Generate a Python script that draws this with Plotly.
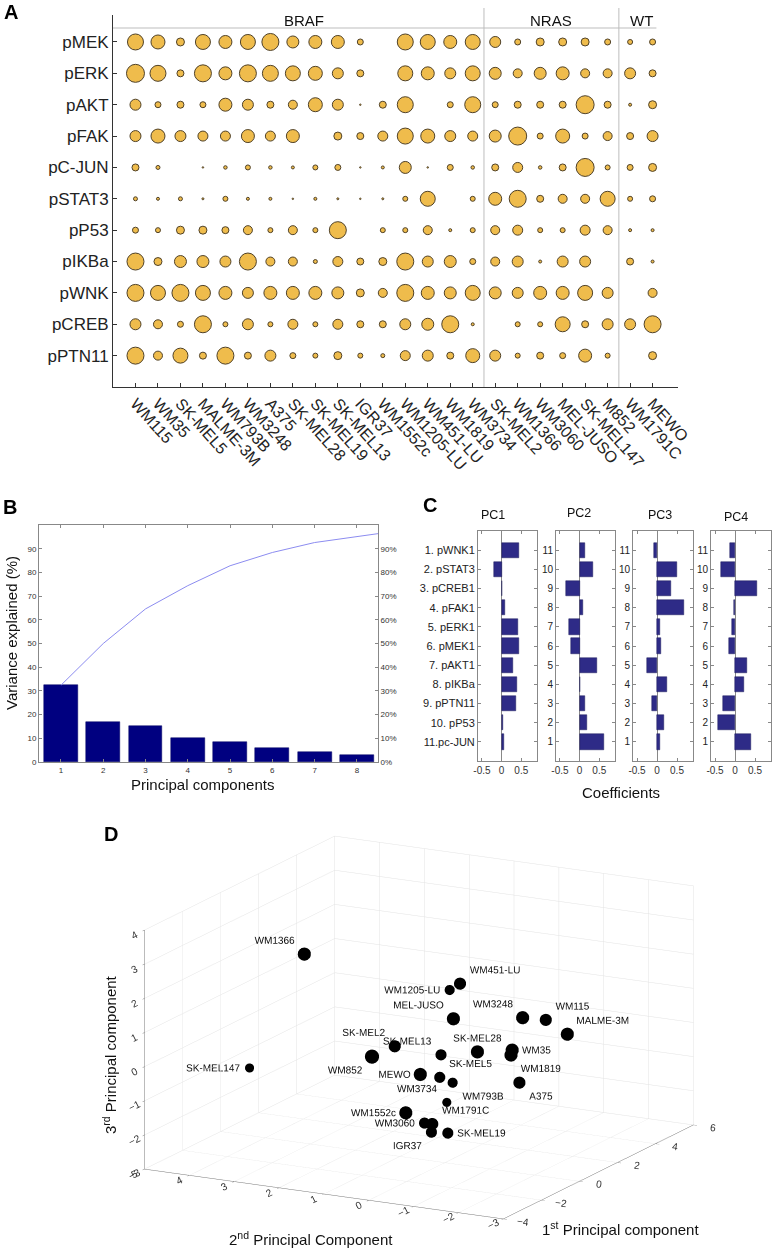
import plotly.graph_objects as go

W, H = 772, 1249
def px(x): return x / W
def py(y): return 1 - y / H

FONT = "Liberation Sans, Arial, sans-serif"

# ---------------- Panel A data ----------------
markers = ["pMEK", "pERK", "pAKT", "pFAK", "pC-JUN", "pSTAT3", "pP53",
           "pIKBa", "pWNK", "pCREB", "pPTN11"]
cell_lines = ["WM115", "WM35", "SK-MEL5", "MALME-3M", "WM793B", "WM3248", "A375",
              "SK-MEL28", "SK-MEL19", "SK-MEL13", "IGR37", "WM1552c", "WM1205-LU",
              "WM451-LU", "WM1819", "WM3734", "SK-MEL2", "WM1366", "WM3060",
              "MEL-JUSO", "SK-MEL147", "M852", "WM1791C", "MEWO"]
pMEK   = [16, 14, 8, 15, 13, 15, 17, 12, 13, 13, 6, 0, 16, 15, 13, 15, 11, 6, 8, 8, 8, 6, 5, 6]
pERK   = [18, 16, 7, 17, 13, 17, 16, 15, 14, 11, 7, 0, 15, 13, 11, 15, 12, 9, 12, 13, 9, 9, 11, 7]
pAKT   = [11, 6, 7, 6, 13, 11, 7, 9, 14, 11, 1.5, 7, 16, 0, 6, 16, 6, 7, 7, 7, 18, 7, 3, 8]
pFAK   = [11, 14, 11, 10, 10, 13, 10, 13, 0, 8, 7, 10, 16, 14, 11, 10, 12, 18, 6, 14, 6, 9, 7, 11]
pCJUN  = [7, 4, 0, 1.5, 3.5, 5, 3.5, 3, 5, 6, 1.5, 3, 12, 1.5, 6, 3.5, 7, 10, 3.5, 7, 18, 5, 6, 8]
pSTAT3 = [4, 3, 4, 2, 5, 3, 3, 1.5, 3, 2, 1.5, 2, 5, 15, 0, 5, 13, 17, 7, 9, 9, 15, 5, 6]
pP53   = [6, 5, 8, 8, 7, 9, 5, 9, 5, 17, 0, 5, 5, 9, 3, 5, 9, 10, 5, 5, 10, 9, 3, 3]
pIKBa  = [17, 8, 12, 12, 11, 17, 9, 9, 4, 10, 7, 8, 17, 11, 12, 6, 9, 11, 3, 11, 11, 0, 7, 3]
pWNK   = [17, 15, 17, 15, 13, 11, 13, 13, 13, 12, 8, 9, 17, 13, 12, 15, 12, 11, 13, 13, 15, 11, 0, 9]
pCREB  = [11, 9, 6, 17, 5, 11, 5, 10, 5, 10, 7, 7, 11, 12, 17, 3, 0, 5, 5, 15, 7, 11, 11, 17]
pPTN11 = [17, 9, 15, 7, 17, 7, 11, 6, 5, 8, 5, 4, 10, 11, 7, 14, 11, 5, 7, 6, 13, 5, 0, 8]
signal_rows = [pMEK, pERK, pAKT, pFAK, pCJUN, pSTAT3, pP53, pIKBa, pWNK, pCREB, pPTN11]
groups = ["BRAF", "NRAS", "WT"]
group_sizes = [16, 6, 2]

# ---------------- Panel B data ----------------
pcs = [1, 2, 3, 4, 5, 6, 7, 8]
var_explained = [32.4, 16.8, 15.1, 10.2, 8.4, 5.8, 4.1, 2.9]
cum_x = [1, 2, 3, 4, 5, 6, 7, 8, 9]
cum_explained = [32.4, 50.0, 64.6, 74.4, 82.8, 88.4, 92.6, 95.0, 97.6]

# ---------------- Panel C data ----------------
coef_labels = ["1. pWNK1", "2. pSTAT3", "3. pCREB1", "4. pFAK1", "5. pERK1", "6. pMEK1",
               "7. pAKT1", "8. pIKBa", "9. pPTN11", "10. pP53", "11.pc-JUN"]
pc1 = [0.43, -0.19, 0.02, 0.08, 0.41, 0.43, 0.29, 0.38, 0.37, 0.04, 0.06]
pc2 = [0.13, 0.35, -0.34, 0.09, -0.26, -0.22, 0.45, 0.01, 0.13, 0.18, 0.63]
pc3 = [-0.08, 0.50, 0.36, 0.68, 0.08, 0.09, -0.24, 0.26, -0.13, 0.17, 0.08]
pc4 = [-0.12, -0.34, 0.54, -0.02, -0.08, -0.16, 0.29, 0.23, -0.29, -0.42, 0.40]

# ---------------- Panel D data ----------------
d_names = ["WM1366", "SK-MEL147", "SK-MEL2", "WM852", "WM1552c", "WM1205-LU", "WM451-LU",
           "MEL-JUSO", "WM3248", "WM115", "MALME-3M", "SK-MEL13", "SK-MEL28", "WM35",
           "WM1819", "MEWO", "SK-MEL5", "WM793B", "A375", "WM3734", "WM1791C", "WM3060",
           "IGR37", "SK-MEL19"]
d_pc1 = [-1.5, 1.0, 0.0, -2.0, -3.5, 4.0, 1.5, -0.5, 3.0, 4.5, 2.0, 0.5, 1.0, 2.0,
         0.5, -2.5, 1.0, 3.0, 2.5, 3.0, -3.5, -1.5, -3.0, 1.0]
d_pc2 = [2.50, 4.78, 1.12, 0.78, -0.61, 1.59, 0.30, -0.40, -0.46, -0.34, -1.88, 0.30, -0.30, -0.65,
         -1.26, -0.51, 0.54, 1.10, -0.60, 1.23, -1.20, -0.18, -0.97, 0.36]
d_pc3 = [3.07, -1.37, 0.21, 0.52, -0.46, 0.67, 1.78, 1.43, 0.51, 0.01, 0.56, -0.03, 0.03, -0.13,
         0.25, 0.37, -0.87, -1.68, -1.23, -2.28, -0.68, -1.39, -1.10, -2.47]
d_size = [13, 9, 12, 14, 13, 10, 12, 13, 13, 12, 13, 11, 13, 13, 13, 13, 11, 10, 12, 9, 12, 11, 11, 11]
d_textpos = ["top left", "middle left", "top left", "bottom left", "middle left", "middle left",
             "top right", "top left", "top left", "top right", "top right", "top left",
             "top center", "middle right", "bottom right", "middle left", "top right",
             "bottom right", "bottom right", "top left", "top right", "middle left",
             "bottom left", "middle right"]

fig = go.Figure()

# ================= Panel A =================
ax_x, ax_y, ax_s = [], [], []
n_rows = len(markers)
for r, row in enumerate(signal_rows):
    for c, v in enumerate(row):
        if v > 0:
            ax_x.append(c)
            ax_y.append(n_rows - r)
            ax_s.append(v)
fig.add_trace(go.Scatter(
    x=ax_x, y=ax_y, mode="markers", xaxis="x", yaxis="y",
    marker=dict(size=ax_s, sizemode="diameter", color="#EFBC4C", opacity=1,
                line=dict(color="#4f4128", width=1)),
    showlegend=False, hoverinfo="skip"))

# ================= Panel B =================
fig.add_trace(go.Bar(x=pcs, y=var_explained, xaxis="x2", yaxis="y2", width=0.8,
                     marker=dict(color="#000080", line=dict(color="#000060", width=0.5)),
                     showlegend=False))
fig.add_trace(go.Scatter(x=cum_x, y=cum_explained, xaxis="x2", yaxis="y3", mode="lines",
                         line=dict(color="#8c8cf0", width=1), showlegend=False))

# ================= Panel C =================
rows_y = list(range(len(coef_labels), 0, -1))
for k, vals in enumerate([pc1, pc2, pc3, pc4]):
    fig.add_trace(go.Bar(x=vals, y=rows_y, orientation="h", width=0.8,
                         xaxis=f"x{k+3}", yaxis=f"y{k+4}",
                         marker=dict(color="#2E2B87", line=dict(color="#1c1a5c", width=0.5)),
                         showlegend=False))

# ================= Panel D =================
fig.add_trace(go.Scatter3d(
    x=d_pc1, y=d_pc2, z=d_pc3, mode="markers+text", text=d_names,
    textposition=d_textpos, textfont=dict(size=10, color="#111", family=FONT),
    marker=dict(size=d_size, sizemode="diameter", sizeref=0.85, color="black",
                opacity=1, line=dict(width=0)),
    showlegend=False, scene="scene"))

# ---------------- layout ----------------
axis_col = "#333"
layout = dict(
    width=W, height=H, autosize=False, template="none",
    margin=dict(l=0, r=0, t=0, b=0),
    paper_bgcolor="white", plot_bgcolor="rgba(0,0,0,0)",
    font=dict(family=FONT, color="#222"),
    bargap=0,
    # Panel A
    xaxis=dict(domain=[px(113), px(678)], range=[-1, 24.13], tickvals=list(range(len(cell_lines))),
               ticktext=cell_lines, tickangle=48, tickfont=dict(size=16, color="#222"),
               showline=True, linecolor=axis_col, ticks="inside", ticklen=4, tickcolor=axis_col,
               showgrid=False, zeroline=False, anchor="y", fixedrange=True),
    yaxis=dict(domain=[py(387), py(15)], range=[0, 11.86], tickvals=list(range(n_rows, 0, -1)),
               ticktext=markers, tickfont=dict(size=17, color="#222"),
               showline=True, linecolor=axis_col, ticks="inside", ticklen=4, tickcolor=axis_col,
               showgrid=False, zeroline=False, anchor="x"),
    # Panel B
    xaxis2=dict(domain=[px(39), px(378)], range=[0.48, 8.5], tickvals=pcs,
                tickfont=dict(size=8, color="#333"), showline=True, linecolor="#888",
                mirror="ticks", ticks="inside", ticklen=3, tickcolor="#888",
                showgrid=False, zeroline=False, anchor="y2"),
    yaxis2=dict(domain=[py(762), py(525)], range=[0, 100], tickvals=list(range(0, 100, 10)),
                tickfont=dict(size=8, color="#333"), showline=True, linecolor="#888",
                ticks="inside", ticklen=3, tickcolor="#888",
                showgrid=False, zeroline=False, anchor="x2"),
    yaxis3=dict(overlaying="y2", side="right", range=[0, 100], tickvals=list(range(0, 100, 10)),
                ticktext=[f"{v}%" for v in range(0, 100, 10)],
                tickfont=dict(size=8, color="#333"), showline=True, linecolor="#888",
                ticks="inside", ticklen=3, tickcolor="#888",
                showgrid=False, zeroline=False, anchor="x2"),
)
c_domains = [(478, 537), (556, 615), (633, 693), (711, 771)]
for k, (l, r) in enumerate(c_domains):
    xa = f"xaxis{k+3}"
    ya = f"yaxis{k+4}"
    layout[xa] = dict(domain=[px(l), px(r)], range=[-0.6, 0.9], tickvals=[-0.5, 0, 0.5],
                      ticktext=["-0.5", "0", "0.5"], tickfont=dict(size=10, color="#333"),
                      showline=True, linecolor="#888", mirror="allticks", ticks="inside",
                      ticklen=3, tickcolor="#888", showgrid=False,
                      zeroline=True, zerolinecolor="#888", zerolinewidth=1, anchor=f"y{k+4}")
    if k == 0:
        ytext = coef_labels
        yfs = 11
    else:
        ytext = [str(v) for v in rows_y]
        yfs = 10
    layout[ya] = dict(domain=[py(761), py(531)], range=[0, 12], tickvals=rows_y, ticktext=ytext,
                      tickfont=dict(size=yfs, color="#222"), showline=True, linecolor="#888",
                      mirror="allticks", ticks="inside", ticklen=3, tickcolor="#888",
                      showgrid=False, zeroline=False, anchor=f"x{k+3}")

# Panel D scene
eye_dir = (-0.853, -0.452, 0.262)
eye_f = 4.0
box_scale = 1.85
ax3d = dict(showbackground=False, gridcolor="#e3e3e3", gridwidth=1, showline=True,
            linecolor="#777", linewidth=1, ticks="outside", ticklen=4, tickcolor="#777",
            tickfont=dict(size=11, color="#333", family=FONT), zeroline=False,
            showspikes=False, title=dict(text=""))
layout["scene"] = dict(
    domain=dict(x=[px(119), px(719)], y=[py(1247), py(808)]),
    xaxis=dict(ax3d, range=[-4, 6], tickvals=[-4, -2, 0, 2, 4, 6]),
    yaxis=dict(ax3d, range=[-3, 5], tickvals=list(range(-3, 6))),
    zaxis=dict(ax3d, range=[-3, 4], tickvals=list(range(-3, 5))),
    aspectmode="manual", aspectratio=dict(x=box_scale, y=box_scale, z=0.61 * box_scale),
    camera=dict(eye=dict(x=eye_dir[0] * eye_f, y=eye_dir[1] * eye_f, z=eye_dir[2] * eye_f),
                center=dict(x=0, y=0, z=0), up=dict(x=0, y=0, z=1),
                projection=dict(type="orthographic")),
    bgcolor="rgba(0,0,0,0)",
)

# shapes for panel A groups
shapes = []
bounds = [15.5, 21.5]
for b in bounds:
    shapes.append(dict(type="line", xref="x", yref="paper", x0=b, x1=b, y0=py(387), y1=py(8),
                       line=dict(color="#bdbdbd", width=1)))
shapes.append(dict(type="line", xref="x", yref="paper", x0=-1, x1=23.17, y0=py(28), y1=py(28),
                   line=dict(color="#bdbdbd", width=1)))
layout["shapes"] = shapes

ann = []
start = 0
for g, n in zip(groups, group_sizes):
    ann.append(dict(text=g, xref="x", yref="paper", x=start + (n - 1) / 2, y=py(20.5),
                    showarrow=False, font=dict(size=15, color="#111"), xanchor="center",
                    yanchor="middle"))
    start += n
for lab, (x, y) in {"A": (10.5, 11.5), "B": (9.5, 507), "C": (430, 505.5), "D": (111, 834)}.items():
    ann.append(dict(text=f"<b>{lab}</b>", xref="paper", yref="paper", x=px(x), y=py(y),
                    showarrow=False, font=dict(size=20, color="black"),
                    xanchor="center", yanchor="middle"))
ann.append(dict(text="Variance explained (%)", xref="paper", yref="paper", x=px(11), y=py(633),
                textangle=-90, showarrow=False, font=dict(size=15, color="#111"),
                xanchor="center", yanchor="middle"))
ann.append(dict(text="Principal components", xref="paper", yref="paper", x=px(202), y=py(784),
                showarrow=False, font=dict(size=15, color="#111"), xanchor="center", yanchor="middle"))
ann.append(dict(text="Coefficients", xref="paper", yref="paper", x=px(620.5), y=py(792),
                showarrow=False, font=dict(size=15, color="#111"), xanchor="center", yanchor="middle"))
for t, (x, y) in zip(["PC1", "PC2", "PC3", "PC4"], [(492.5, 515), (579, 513), (659.7, 515), (735.7, 517)]):
    ann.append(dict(text=t, xref="paper", yref="paper", x=px(x), y=py(y), showarrow=False,
                    font=dict(size=12.5, color="#111"), xanchor="center", yanchor="middle"))
ann.append(dict(text="3<sup>rd</sup> Principal component", xref="paper", yref="paper",
                x=px(109), y=py(1055), textangle=-90, showarrow=False,
                font=dict(size=15, color="#111"), xanchor="center", yanchor="middle"))
ann.append(dict(text="2<sup>nd</sup> Principal Component", xref="paper", yref="paper",
                x=px(311), y=py(1238), showarrow=False,
                font=dict(size=15, color="#111"), xanchor="center", yanchor="middle"))
ann.append(dict(text="1<sup>st</sup> Principal component", xref="paper", yref="paper",
                x=px(620.5), y=py(1228), showarrow=False,
                font=dict(size=15, color="#111"), xanchor="center", yanchor="middle"))
layout["annotations"] = ann

fig.update_layout(**layout)
fig.write_html("out.html", config={"displayModeBar": False},
               post_script="document.body.style.margin='0px';document.body.style.overflow='hidden';")
